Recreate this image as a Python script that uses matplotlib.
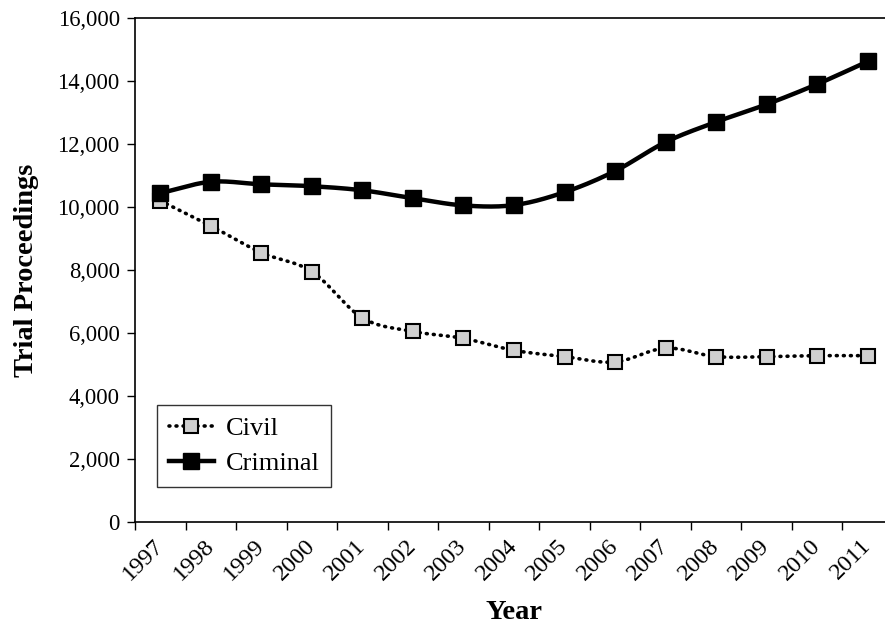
import numpy as np
import matplotlib
matplotlib.use("Agg")
import matplotlib.pyplot as plt
from matplotlib.ticker import FuncFormatter, FixedLocator

# Data
years = ["1997", "1998", "1999", "2000", "2001", "2002", "2003", "2004",
         "2005", "2006", "2007", "2008", "2009", "2010", "2011"]
civil = [10200, 9400, 8550, 7950, 6480, 6050, 5830, 5450,
         5250, 5080, 5520, 5250, 5250, 5280, 5280]
criminal = [10440, 10800, 10720, 10660, 10530, 10280, 10050, 10060,
            10470, 11140, 12060, 12700, 13260, 13900, 14620]


# Smoothed line the way a spreadsheet draws it (Catmull-Rom through the points)
def smooth(x, y, n=20):
    x = np.asarray(x, float)
    y = np.asarray(y, float)
    px = np.concatenate([[2 * x[0] - x[1]], x, [2 * x[-1] - x[-2]]])
    py = np.concatenate([[2 * y[0] - y[1]], y, [2 * y[-1] - y[-2]]])
    xs, ys = [], []
    t = np.linspace(0, 1, n, endpoint=False)
    for i in range(1, len(px) - 2):
        for p, out in ((px, xs), (py, ys)):
            p0, p1, p2, p3 = p[i - 1], p[i], p[i + 1], p[i + 2]
            out.extend(0.5 * (2 * p1 + (-p0 + p2) * t
                              + (2 * p0 - 5 * p1 + 4 * p2 - p3) * t ** 2
                              + (-p0 + 3 * p1 - 3 * p2 + p3) * t ** 3))
    xs.append(x[-1])
    ys.append(y[-1])
    return xs, ys


plt.rcParams['font.family'] = ['Liberation Serif', 'DejaVu Serif']

fig = plt.figure(figsize=(8.85, 6.29), dpi=100)
ax = fig.add_axes([135 / 885, 107 / 629, (893 - 135) / 885, 504 / 629])

x = np.arange(len(years))
dots = (0, (0.25, 1.7))

# Civil: dotted line, light grey squares
sx, sy = smooth(x, civil)
ax.plot(sx, sy, color="black", linestyle=dots, linewidth=2.6,
        dash_capstyle="round")
ax.plot(x, civil, linestyle="none", marker="s", markersize=10,
        markerfacecolor="#cfcfcf", markeredgecolor="black", markeredgewidth=1.5)

# Criminal: solid line, black squares
sx, sy = smooth(x, criminal)
ax.plot(sx, sy, color="black", linewidth=3.2)
ax.plot(x, criminal, linestyle="none", marker="s", markersize=11,
        color="black")

# Legend handles
h_civil, = ax.plot([], [], color="black", linestyle=dots,
                   linewidth=2.6, dash_capstyle="round", marker="s",
                   markersize=10, markerfacecolor="#cfcfcf",
                   markeredgecolor="black", markeredgewidth=1.5)
h_crim, = ax.plot([], [], color="black", linewidth=3.2, marker="s",
                  markersize=11)
leg = ax.legend([h_civil, h_crim], ["Civil", "Criminal"],
                loc="lower left", bbox_to_anchor=(0.029, 0.069),
                fontsize=19, frameon=True, fancybox=False,
                handlelength=1.7, handletextpad=0.45, borderpad=0.45,
                labelspacing=0.45, borderaxespad=0)
leg.get_frame().set_edgecolor("black")
leg.get_frame().set_linewidth(1.0)

# Axes
ax.set_xlim(-0.5, 14.5)
ax.set_ylim(0, 16000)
ax.set_yticks(np.arange(0, 16001, 2000))
ax.yaxis.set_major_formatter(FuncFormatter(lambda v, p: f"{int(v):,}"))
ax.set_xticks(x)
ax.set_xticklabels(years, rotation=45, ha="right", va="center",
                   rotation_mode="anchor")
ax.xaxis.set_minor_locator(FixedLocator(np.arange(-0.5, 15, 1)))
ax.tick_params(axis="x", which="major", length=0, pad=15, labelsize=17.5)
ax.tick_params(axis="x", which="minor", length=6, width=1, direction="out")
ax.tick_params(axis="y", length=6, width=1, direction="out", labelsize=16.3,
               pad=5)

ax.spines["right"].set_visible(False)
for s in ("left", "bottom", "top"):
    ax.spines[s].set_linewidth(1.2)

ax.set_ylabel("Trial Proceedings", fontsize=20.5, fontweight="bold")
ax.set_xlabel("Year", fontsize=20.5, fontweight="bold")
ax.yaxis.set_label_coords(-0.127, 0.5)
ax.xaxis.set_label_coords(0.5, -0.155)

fig.savefig("out.png", dpi=100)
